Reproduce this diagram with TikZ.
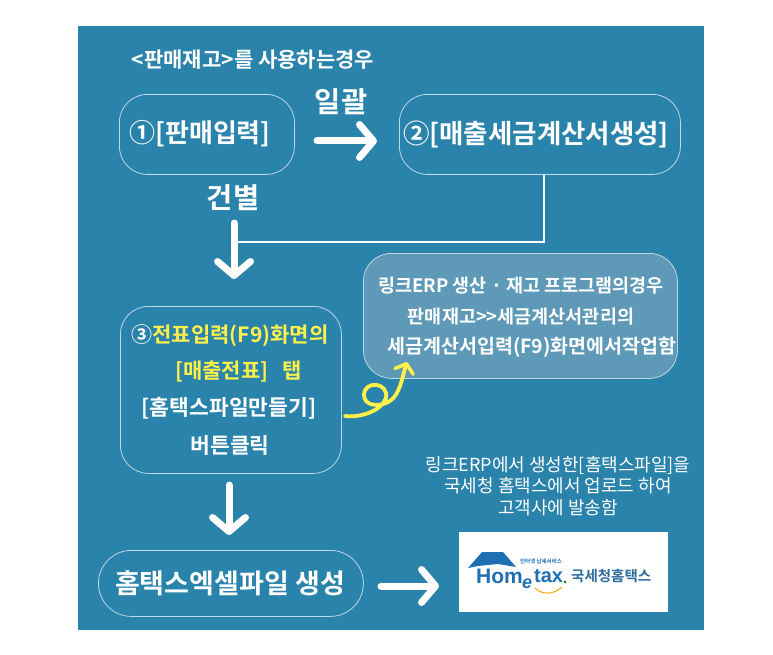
\documentclass[tikz,border=0pt]{standalone}
\usepackage{fontspec}
\setmainfont{Noto Sans CJK KR}[BoldFont={Noto Sans CJK KR Bold}]
\newfontfamily\latinlogo{Liberation Sans}
\usetikzlibrary{arrows.meta}
\definecolor{panel}{HTML}{2A83AB}
\definecolor{boxline}{HTML}{BBD8E6}
\definecolor{note}{HTML}{5E9AB8}
\definecolor{hl}{HTML}{FFF04A}
\definecolor{logoblue}{HTML}{1F6FB5}
\definecolor{logotext}{HTML}{2F6C9E}
\tikzset{
  flowbox/.style={draw=boxline,line width=0.8pt,rounded corners=28pt,fill=none,inner sep=0pt},
  label/.style={text=white,font=\bfseries,align=center,inner sep=0pt},
  bigarrow/.style={draw=white,line width=7pt,line cap=round,-{Straight Barb[length=14pt,width=33pt,line width=7pt,round]}},
  thinline/.style={draw=white,line width=1.3pt},
  yarrow/.style={draw=hl,line width=3.8pt,line cap=round,-{Straight Barb[length=8pt,width=19pt,line width=3.6pt,round]}},
}
\begin{document}
\begin{tikzpicture}[x=1pt,y=-1pt]
\useasboundingbox (0,0) rectangle (773,655);
\fill[white] (0,0) rectangle (773,655);
\fill[panel] (78,26) rectangle (704,630);

\node[label,font=\bfseries\fontsize{21}{24}\selectfont] (title) at (253,60) {<판매재고>를 사용하는경우};

\node[flowbox,minimum width=175pt,minimum height=80pt,anchor=north west] (a) at (119,94) {};
\node[label,font=\bfseries\fontsize{26}{30}\selectfont] (atxt) at (200,134) {①[판매입력]};

\node[flowbox,minimum width=281pt,minimum height=80pt,anchor=north west] (b) at (399,94) {};
\node[label,font=\bfseries\fontsize{26.5}{30}\selectfont] (btxt) at (536,134) {②[매출세금계산서생성]};

\node[label,font=\bfseries\fontsize{28.5}{32}\selectfont] (il) at (341,102) {일괄};
\node[label,font=\bfseries\fontsize{28.5}{32}\selectfont] (geon) at (233,198) {건별};

\coordinate (a1) at (317,141);
\coordinate (a2) at (377,141);
\draw[bigarrow] (a1) -- (a2);

\coordinate (d1) at (234,223);
\coordinate (d2) at (234,279);
\draw[bigarrow] (d1) -- (d2);

\coordinate (bend) at (544,242);
\coordinate (d3) at (237,242);
\draw[thinline] (b.south -| bend) -- (bend) -- (d3);

\node[flowbox,minimum width=221pt,minimum height=167pt,anchor=north west] (c) at (120,306) {};
\node[label,text=hl,font=\bfseries\fontsize{21}{24}\selectfont] (c1) at (230,336) {\textcolor{white}{③}전표입력(F9)화면의};
\node[label,text=hl,font=\bfseries\fontsize{21}{24}\selectfont] (c2) at (238.5,372) {[매출전표]\hspace{14pt}탭};
\node[label,font=\bfseries\fontsize{21.5}{24}\selectfont] (c3) at (229,408) {[홈택스파일만들기]};
\node[label,font=\bfseries\fontsize{21.5}{24}\selectfont] (c4) at (230,445) {버튼클릭};

\node[flowbox,fill=note,minimum width=314pt,minimum height=125pt,rounded corners=28pt,anchor=north west] (n) at (363,253) {};
\node[label,font=\bfseries\fontsize{18.5}{22}\selectfont] (n1) at (521,286) {링크ERP 생산 · 재고 프로그램의경우};
\node[label,font=\bfseries\fontsize{18.5}{22}\selectfont] (n2) at (521,317) {판매재고>{}>세금계산서관리의};
\node[label,font=\bfseries\fontsize{19.5}{22}\selectfont] (n3) at (532,347) {세금계산서입력(F9)화면에서작업함};

\coordinate (y1) at (345,416);
\coordinate (y2) at (407,362);
\draw[yarrow] (y1) .. controls (362,418) and (382,410) .. (386,398)
  .. controls (389,382) and (364,380) .. (364,395)
  .. controls (364,407) and (381,407) .. (390,401)
  .. controls (400,394) and (402,378) .. (y2);

\coordinate (d4) at (229,485);
\coordinate (d5) at (229,535);
\draw[bigarrow] (d4) -- (d5);

\node[flowbox,minimum width=265pt,minimum height=66pt,rounded corners=33pt,anchor=north west] (e) at (98,550) {};
\node[label,font=\bfseries\fontsize{27}{30}\selectfont] (etxt) at (230,583) {홈택스엑셀파일 생성};

\coordinate (a3) at (381,586);
\coordinate (a4) at (439,586);
\draw[bigarrow] (a3) -- (a4);

\node[text=white,align=center,inner sep=0pt,font=\fontsize{18}{21.5}\selectfont] (cap) at (558,486) {링크ERP에서 생성한[홈택스파일]을\\국세청 홈택스에서 업로드 하여\\고객사에 발송함};

\fill[white] (459,532) rectangle (668,612);
\fill[logoblue] (468,568) -- (482,552) -- (503,552) -- (516,567) -- (498,564) -- (478,566) -- cycle;
\node[inner sep=0pt,text=logoblue,font=\latinlogo\bfseries\fontsize{21}{24}\selectfont,anchor=west] (h1) at (476,576) {Hom};
\node[inner sep=0pt,text=logoblue,font=\latinlogo\bfseries\itshape\fontsize{18}{20}\selectfont,anchor=north] (h2) at (527,579) {e};
\node[inner sep=0pt,text=logoblue,font=\latinlogo\bfseries\fontsize{20}{22}\selectfont,anchor=west] (h3) at (534,576) {tax};
\fill[green!55!black] (565,582) circle (1.5pt);
\draw[orange!70!yellow,line width=1pt] (535,588) .. controls (542,595) and (553,595) .. (562,587);
\node[inner sep=0pt,text=logoblue,font=\bfseries\fontsize{5.5}{6}\selectfont] (h4) at (541,561) {인터넷 납세서비스};
\node[inner sep=0pt,text=logotext,font=\bfseries\fontsize{14.5}{16}\selectfont,anchor=west] (h5) at (571,576) {국세청홈택스};
\end{tikzpicture}
\end{document}
